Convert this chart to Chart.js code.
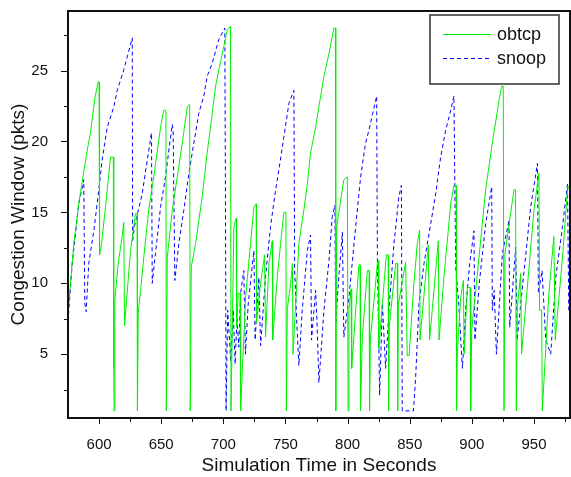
<!DOCTYPE html>
<html lang="en">
<head>
  <meta charset="UTF-8" />
  <title>Congestion Window</title>
  <script src="https://cdn.jsdelivr.net/npm/chart.js@4.4.1/dist/chart.umd.min.js"></script>
  <style>
    body { margin: 0; background: #fff; }
    #wrap { width: 571px; height: 477px; }
  </style>
</head>
<body>
  <div id="wrap"><canvas id="cwnd" width="571" height="477"></canvas></div>

  <script>
    // values (time in s, window in pkts)
    const obtcpTime = [575.6, 579.7, 583.7, 590.5, 593.1, 596.6, 599.3, 600.0, 600.4, 602.0, 605.2, 609.2, 611.5, 611.8, 612.1, 612.7, 615.4, 618.6, 619.9, 620.5,
      625.3, 629.3, 630.6, 630.9, 631.5, 633.4, 636.0, 640.0, 644.0, 649.5, 652.0, 653.8, 654.1, 654.9, 658.9, 662.9, 667.0, 671.0, 672.9, 673.4,
      674.2, 677.7, 683.0, 687.0, 689.7, 693.8, 696.4, 700.4, 703.2, 705.8, 706.2, 708.5, 710.4, 710.7, 712.0, 713.5, 713.9, 717.9, 721.9, 724.6,
      726.4, 726.7, 730.0, 733.2, 734.0, 736.7, 739.4, 739.7, 743.4, 746.1, 748.7, 750.4, 750.7, 751.5, 754.2, 755.6, 756.1, 760.8, 764.8, 767.6,
      770.2, 774.3, 776.9, 781.0, 785.0, 789.0, 790.2, 790.5, 791.2, 797.0, 799.8, 800.4, 801.1, 802.8, 803.3, 809.1, 810.0, 810.4, 811.9, 815.9,
      817.3, 817.7, 818.3, 824.0, 824.8, 825.1, 831.2, 832.7, 833.0, 833.6, 838.7, 840.0, 840.3, 840.9, 846.7, 848.0, 849.5, 853.4, 856.1, 858.0,
      858.3, 865.0, 866.0, 873.0, 873.6, 877.5, 883.0, 885.6, 887.3, 887.7, 888.3, 891.0, 893.2, 893.8, 896.4, 898.6, 899.1, 899.9, 905.8, 911.1,
      916.5, 921.9, 924.0, 925.3, 925.9, 926.7, 933.9, 935.2, 935.8, 936.6, 939.3, 940.0, 950.0, 954.0, 954.5, 956.2, 956.7, 962.0, 966.0, 967.1,
      973.0, 977.0, 979.0];
    const obtcpCwnd = [8.6, 12.8, 15.65, 19.4, 20.6, 23.05, 24.2, 24.2, 12.0, 12.8, 15.4, 18.9, 18.9, 4.0, 1, 8.8, 11.4, 13.3, 14.3, 7.0,
      12.3, 14.9, 14.9, 1, 7.9, 9.5, 11.85, 15.2, 17.5, 21.0, 22.2, 22.2, 1, 11.85, 15.15, 17.5, 19.9, 22.45, 22.6, 1,
      11.15, 12.8, 16.1, 19.2, 21.0, 23.9, 25.05, 26.7, 27.9, 28.1, 1, 14.0, 14.6, 6.9, 9.3, 9.3, 1, 9.0, 12.8, 15.4,
      15.6, 7.2, 10.0, 12.0, 6.2, 11.4, 13.0, 6.0, 10.4, 12.8, 15.0, 15.0, 1, 8.2, 10.0, 11.4, 5.0, 12.8, 15.15, 17.0,
      19.2, 21.0, 22.45, 24.6, 26.2, 28.0, 28.0, 1, 14.0, 17.3, 17.5, 1, 8.1, 9.6, 4.0, 11.3, 11.3, 1, 6.2, 10.9,
      10.9, 1, 6.0, 11.4, 11.6, 5.4, 12.0, 12.0, 1, 7.0, 11.4, 11.4, 1, 8.5, 11.5, 4.9, 4.9, 10.0, 12.8, 13.75,
      6.0, 12.7, 6.0, 13.0, 6.0, 10.4, 15.6, 16.9, 16.9, 1, 5.0, 9.0, 10.2, 5.0, 9.7, 9.7, 1, 6.7, 11.85, 16.6,
      19.9, 22.9, 23.9, 23.9, 1, 12.1, 16.6, 16.6, 1, 8.3, 10.7, 5.0, 15.15, 17.75, 8.1, 8.1, 1, 9.3, 13.3, 6.0,
      11.85, 16.6, 17.0];

    const snoopTime = [575.0, 578.4, 583.7, 587.7, 588.5, 589.6, 591.7, 595.8, 599.8, 602.5, 606.6, 611.9, 614.6, 619.9, 626.7, 627.0, 628.5, 634.7, 638.8, 642.2,
      642.8, 645.4, 649.5, 653.5, 656.2, 658.9, 659.6, 661.0, 664.2, 668.2, 672.3, 676.3, 680.3, 684.3, 687.0, 691.0, 696.4, 701.2, 701.8, 702.2,
      703.5, 706.0, 708.0, 709.5, 711.0, 712.5, 713.9, 716.5, 717.8, 720.0, 724.6, 725.6, 728.6, 730.0, 734.0, 738.0, 742.1, 744.7, 748.7, 752.8,
      756.8, 757.4, 759.0, 760.8, 763.5, 767.6, 770.2, 771.0, 774.3, 775.5, 776.9, 781.0, 785.0, 787.7, 789.8, 790.4, 793.0, 795.8, 797.0, 801.1,
      806.5, 810.5, 814.5, 817.2, 823.4, 824.0, 825.8, 828.0, 830.6, 833.3, 837.3, 841.3, 843.3, 844.0, 853.0, 854.8, 857.5, 861.5, 866.9, 870.9,
      874.9, 879.0, 883.0, 885.6, 887.0, 889.5, 892.4, 895.0, 898.3, 901.7, 902.5, 906.0, 911.1, 916.0, 916.5, 918.0, 919.8, 924.6, 929.9, 930.5,
      935.3, 936.5, 941.0, 947.4, 952.8, 953.6, 956.5, 959.5, 963.5, 967.5, 973.0, 977.0, 978.0];
    const snoopCwnd = [7.3, 11.4, 15.6, 17.3, 8.6, 8.0, 11.4, 13.7, 16.6, 18.7, 21.0, 22.45, 23.6, 25.05, 27.3, 13.0, 14.0, 16.3, 18.7, 20.6,
      10.0, 12.1, 15.4, 17.5, 19.4, 21.2, 20.8, 10.2, 12.8, 15.15, 17.75, 19.9, 22.0, 23.2, 24.6, 25.5, 27.2, 28.0, 14.0, 1,
      8.1, 4.5, 8.1, 4.3, 7.5, 5.5, 9.3, 10.9, 5.0, 8.5, 12.3, 6.0, 10.4, 5.6, 10.5, 14.0, 16.6, 18.0, 20.3, 22.7,
      23.6, 10.9, 7.5, 4.2, 8.1, 12.3, 13.4, 6.0, 9.5, 7.0, 3.0, 8.1, 11.6, 14.7, 15.5, 7.15, 10.5, 13.6, 6.2, 9.0,
      14.0, 17.5, 19.9, 20.8, 23.2, 11.6, 2.1, 8.6, 4.0, 8.1, 12.8, 16.1, 16.9, 1, 1, 3.4, 8.6, 11.4, 14.2, 16.3,
      18.9, 20.8, 22.2, 23.2, 11.15, 8.5, 4.0, 8.1, 11.4, 13.7, 6.0, 10.0, 14.2, 16.8, 8.1, 9.5, 5.0, 12.1, 14.45, 6.9,
      12.55, 6.0, 10.0, 15.4, 18.45, 9.3, 10.9, 6.0, 5.0, 10.4, 14.0, 17.0, 8.1];

    const xTicks = [600, 650, 700, 750, 800, 850, 900, 950];
    const xMinor = [625, 675, 725, 775, 825, 875, 925, 975];
    const yTicks = [5, 10, 15, 20, 25];
    const yMinor = [2.5, 7.5, 12.5, 17.5, 22.5, 27.5];

    const toPoints = (xs, ys) => xs.map((x, i) => ({ x: x, y: ys[i] }));

    const font = "'Liberation Sans', Arial, sans-serif";

    // frame, tick marks and the boxed legend
    const framePlugin = {
      id: 'frame',
      afterDraw(chart) {
        const ctx = chart.ctx;
        const { left, top, right, bottom } = chart.chartArea;
        const xs = chart.scales.x, ys = chart.scales.y;
        ctx.save();
        ctx.strokeStyle = '#111';
        ctx.lineWidth = 1;
        ctx.beginPath();
        xTicks.forEach(v => { const p = Math.round(xs.getPixelForValue(v)) + 0.5; ctx.moveTo(p, bottom); ctx.lineTo(p, bottom + 6); });
        xMinor.forEach(v => { const p = Math.round(xs.getPixelForValue(v)) + 0.5; ctx.moveTo(p, bottom); ctx.lineTo(p, bottom + 4); });
        yTicks.forEach(v => { const p = Math.round(ys.getPixelForValue(v)) + 0.5; ctx.moveTo(left, p); ctx.lineTo(left - 7, p); });
        yMinor.forEach(v => { const p = Math.round(ys.getPixelForValue(v)) + 0.5; ctx.moveTo(left, p); ctx.lineTo(left - 4, p); });
        ctx.stroke();

        ctx.lineWidth = 2;
        ctx.strokeRect(left, top, right - left, bottom - top);

        // legend
        const bx = right - 140, by = top + 4, bw = 129, bh = 69;
        ctx.fillStyle = '#fff';
        ctx.fillRect(bx, by, bw, bh);
        ctx.strokeStyle = '#333';
        ctx.lineWidth = 1.5;
        ctx.strokeRect(bx, by, bw, bh);

        ctx.font = '18px ' + font;
        ctx.textBaseline = 'middle';
        ctx.textAlign = 'left';
        chart.data.datasets.forEach((ds, i) => {
          const ly = by + 19 + i * 24;
          ctx.strokeStyle = ds.borderColor;
          ctx.lineWidth = 1;
          ctx.setLineDash(ds.borderDash || []);
          ctx.beginPath();
          ctx.moveTo(bx + 13, ly + 0.5);
          ctx.lineTo(bx + 61, ly + 0.5);
          ctx.stroke();
          ctx.setLineDash([]);
          ctx.fillStyle = '#111';
          ctx.fillText(ds.label, bx + 67, ly + 1);
        });
        ctx.restore();
      }
    };

    const ctx = document.getElementById('cwnd').getContext('2d');

    new Chart(ctx, {
      type: 'line',
      data: {
        datasets: [
          {
            label: 'obtcp',
            data: toPoints(obtcpTime, obtcpCwnd),
            borderColor: '#00f000',
            borderWidth: 1,
            pointRadius: 0,
            tension: 0
          },
          {
            label: 'snoop',
            data: toPoints(snoopTime, snoopCwnd),
            borderColor: '#0000ff',
            borderWidth: 1,
            borderDash: [4, 3],
            pointRadius: 0,
            tension: 0
          }
        ]
      },
      options: {
        responsive: false,
        animation: false,
        layout: { padding: { top: 11, right: 1, left: 0, bottom: 0 } },
        plugins: { legend: { display: false }, tooltip: { enabled: false } },
        scales: {
          x: {
            type: 'linear',
            min: 575,
            max: 979,
            grid: { display: false },
            border: { display: false },
            afterBuildTicks: s => { s.ticks = xTicks.map(v => ({ value: v })); },
            afterFit: s => { s.height = 59; s.paddingLeft = 0; s.paddingRight = 0; },
            ticks: { padding: 10, color: '#111', font: { family: font, size: 15 } },
            title: {
              display: true,
              text: 'Simulation Time in Seconds',
              color: '#111',
              padding: { top: 0, bottom: 0 },
              font: { family: font, size: 19 }
            }
          },
          y: {
            min: 0.5,
            max: 29.2,
            grid: { display: false },
            border: { display: false },
            afterBuildTicks: s => { s.ticks = yTicks.map(v => ({ value: v })); },
            afterFit: s => { s.width = 68; s.paddingTop = 0; s.paddingBottom = 0; },
            ticks: { padding: 12, color: '#111', font: { family: font, size: 15 } },
            title: {
              display: true,
              text: 'Congestion Window (pkts)',
              color: '#111',
              padding: { top: 7, bottom: 0 },
              font: { family: font, size: 19 }
            }
          }
        }
      },
      plugins: [framePlugin]
    });
  </script>
</body>
</html>
